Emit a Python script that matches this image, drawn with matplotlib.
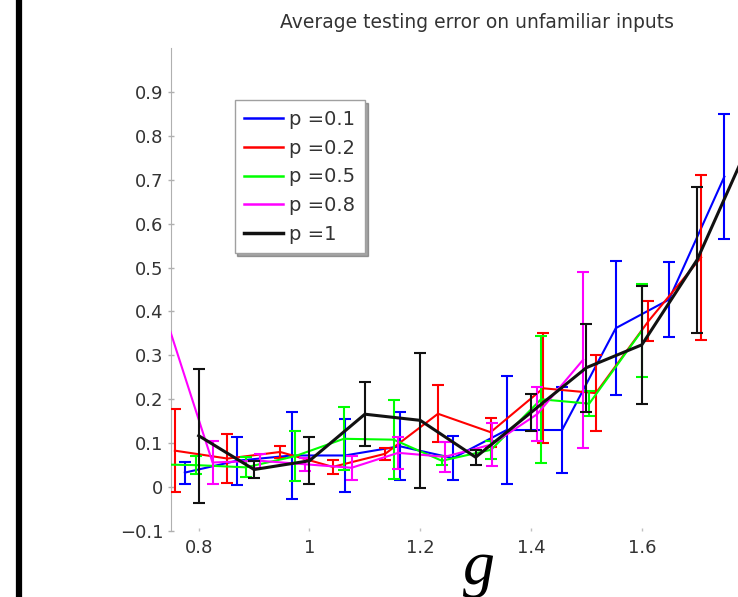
import numpy as np
import matplotlib
matplotlib.use('Agg')
import matplotlib.pyplot as plt
from matplotlib.lines import Line2D

plt.rcParams['font.family'] = ['DejaVu Sans']
plt.rcParams['axes.unicode_minus'] = True

# data (g, mean error, half width of error bar)
g_p01 = [0.775, 0.869, 0.968, 1.064, 1.163, 1.259, 1.356, 1.456, 1.553, 1.649, 1.749]
y_p01 = [0.033, 0.060, 0.072, 0.072, 0.093, 0.066, 0.130, 0.130, 0.362, 0.427, 0.707]
e_p01 = [0.025, 0.055, 0.099, 0.084, 0.077, 0.050, 0.122, 0.098, 0.153, 0.085, 0.143]

g_p02 = [0.757, 0.852, 0.947, 1.042, 1.137, 1.232, 1.327, 1.422, 1.517, 1.612, 1.707]
y_p02 = [0.083, 0.065, 0.080, 0.046, 0.076, 0.167, 0.125, 0.225, 0.214, 0.378, 0.523]
e_p02 = [0.095, 0.055, 0.013, 0.016, 0.014, 0.065, 0.033, 0.125, 0.086, 0.045, 0.188]

g_p05 = [0.708, 0.796, 0.885, 0.973, 1.062, 1.152, 1.239, 1.328, 1.418, 1.505, 1.600]
y_p05 = [0.052, 0.050, 0.045, 0.070, 0.110, 0.108, 0.060, 0.085, 0.200, 0.190, 0.356]
e_p05 = [0.020, 0.020, 0.023, 0.057, 0.072, 0.090, 0.010, 0.020, 0.145, 0.028, 0.106]

g_p08 = [0.730, 0.825, 0.910, 0.992, 1.076, 1.160, 1.244, 1.329, 1.411, 1.494]
y_p08 = [0.428, 0.056, 0.060, 0.052, 0.044, 0.078, 0.069, 0.097, 0.166, 0.290]
e_p08 = [0.020, 0.049, 0.016, 0.015, 0.027, 0.037, 0.034, 0.050, 0.062, 0.200]

g_p1 = [0.8, 0.9, 1.0, 1.1, 1.2, 1.3, 1.4, 1.5, 1.6, 1.7, 1.8]
y_p1 = [0.117, 0.040, 0.060, 0.166, 0.152, 0.068, 0.170, 0.272, 0.324, 0.518, 0.800]
e_p1 = [0.153, 0.020, 0.054, 0.073, 0.153, 0.017, 0.042, 0.100, 0.134, 0.166, 0.150]

labels = ['p =0.1', 'p =0.2', 'p =0.5', 'p =0.8', 'p =1']
colors = ['#0000ff', '#ff0000', '#00ff00', '#ff00ff', '#111111']

xtick_vals = [0.8, 1.0, 1.2, 1.4, 1.6]
xtick_labels = ['0.8', '1', '1.2', '1.4', '1.6']
ytick_vals = [-0.1, 0, 0.1, 0.2, 0.3, 0.4, 0.5, 0.6, 0.7, 0.8, 0.9]
ytick_labels = ['\u22120.1', '0', '0.1', '0.2', '0.3', '0.4', '0.5', '0.6', '0.7', '0.8', '0.9']

W, H = 738, 597
fig = plt.figure(figsize=(W / 100, H / 100), dpi=100)
# axes runs past the right edge of the picture (cropped screenshot)
ax = fig.add_axes([171 / W, 1 - 531 / H, 637 / W, 483 / H])

series = [(g_p01, y_p01, e_p01), (g_p02, y_p02, e_p02), (g_p05, y_p05, e_p05),
          (g_p08, y_p08, e_p08), (g_p1, y_p1, e_p1)]
for i, (gx, gy, ge) in enumerate(series):
    lw = 2.2 if i == 4 else 1.5
    ax.errorbar(gx, gy, yerr=ge, color=colors[i], lw=lw, elinewidth=1.5,
                capsize=4, capthick=1.5, zorder=2 + i)

ax.set_xlim(0.75, 1.9)
ax.set_ylim(-0.1, 1.0)
ax.set_xticks(xtick_vals)
ax.set_xticklabels(xtick_labels)
ax.set_yticks(ytick_vals)
ax.set_yticklabels(ytick_labels)
for s in ['top', 'right', 'bottom']:
    ax.spines[s].set_visible(False)
ax.spines['left'].set_color('#b0b0b0')
ax.tick_params(axis='y', direction='inout', length=5, width=1, color='#b0b0b0',
               labelsize=13, labelcolor='#333333', pad=3)
ax.tick_params(axis='x', direction='in', length=2, width=1, color='#c0c0c0',
               labelsize=13, labelcolor='#333333', pad=6)

handles = [Line2D([], [], color=c, lw=(2.5 if i == 4 else 1.8)) for i, c in enumerate(colors)]
leg = ax.legend(handles, labels, loc='upper left', bbox_to_anchor=(0.1, 0.892),
                borderaxespad=0, fontsize=14, handlelength=2.0, handletextpad=0.3,
                labelspacing=0.5, borderpad=0.5, fancybox=False, shadow=True,
                framealpha=1, edgecolor='#a0a0a0')
for t in leg.get_texts():
    t.set_color('#333333')

fig.text(477 / W, 1 - 22 / H, 'Average testing error on unfamiliar inputs',
         ha='center', va='center', fontsize=13.5, color='#333333')
fig.text(479 / W, 1 - 584 / H, 'g', ha='center', va='baseline', fontsize=46,
         family='Liberation Serif', style='italic')

# thick black bar at the left edge of the screenshot
fig.add_artist(Line2D([18.5 / W, 18.5 / W], [0, 1], color='black', lw=4.5))

fig.savefig('out.png', dpi=100)
